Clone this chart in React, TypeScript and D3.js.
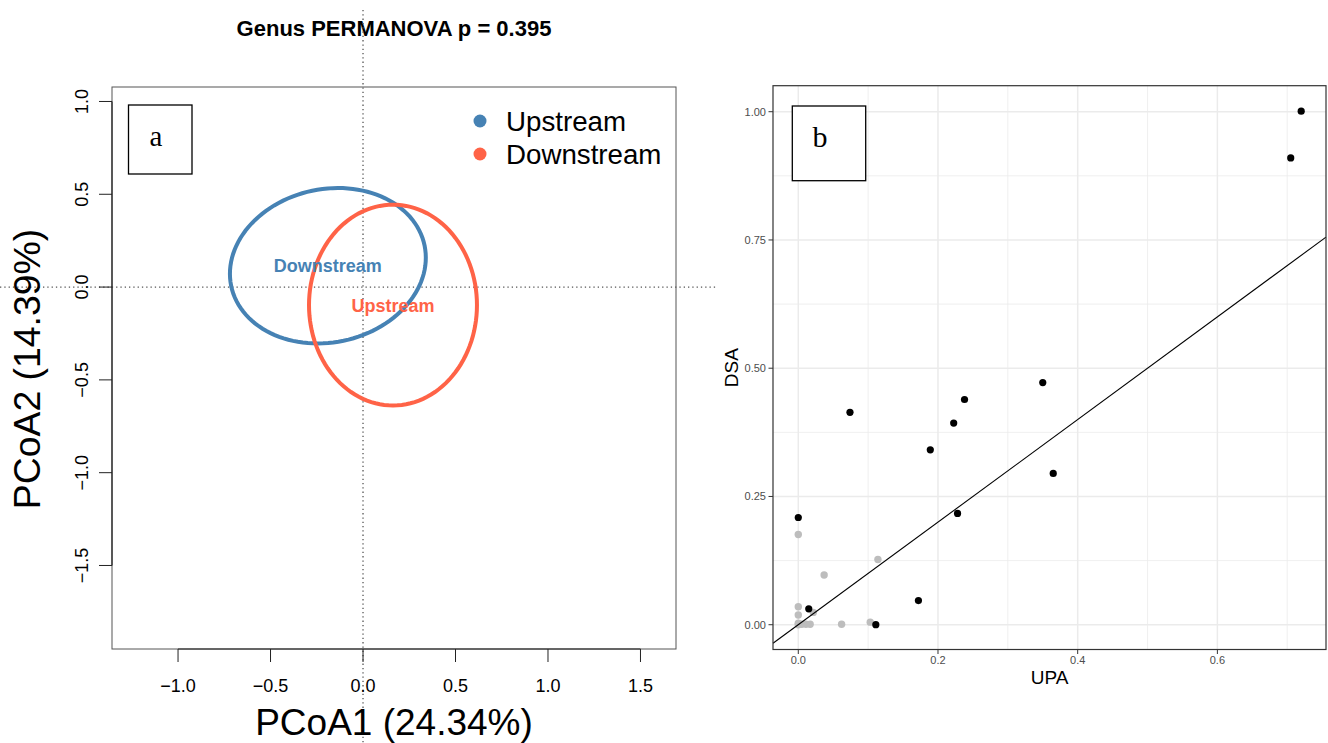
import React from 'react';
import * as d3 from 'd3';

// ---- panel a: PCoA ----
const pcoaXTicks = [-1, -0.5, 0, 0.5, 1, 1.5];
const pcoaYTicks = [1, 0.5, 0, -0.5, -1, -1.5];
const legendNames = ['Upstream', 'Downstream'];
const groupColors = ['#4682B4', '#FF6347'];
// ellipse centre, semi axes and tilt (degrees) per group, in PCoA units
const ellipseCenters = [[-0.19, 0.115], [0.162, -0.097]];
const ellipseAxes = [[0.534, 0.413], [0.454, 0.541]];
const ellipseAngles = [11.8, 0];
const ellipseLabels = ['Downstream', 'Upstream'];

// ---- panel b: UPA vs DSA ----
const upaBlack = [0.72, 0.705, 0.35, 0.238, 0.2225, 0.189, 0.365, 0.228, 0.172, 0.111, 0.074, 0.0, 0.015];
const dsaBlack = [1.001, 0.91, 0.472, 0.439, 0.393, 0.341, 0.295, 0.217, 0.047, 0.0, 0.414, 0.209, 0.031];
const upaGray = [0.0, 0.114, 0.037, 0.0, 0.0, 0.0215, 0.062, 0.103, 0.0, 0.005, 0.011, 0.017, 0.0];
const dsaGray = [0.176, 0.127, 0.097, 0.035, 0.019, 0.024, 0.001, 0.005, 0.003, 0.001, 0.001, 0.001, 0.0];
const upaTicks = [0, 0.2, 0.4, 0.6];
const upaMinor = [0.1, 0.3, 0.5, 0.7];
const dsaTicks = [0, 0.25, 0.5, 0.75, 1];
const dsaMinor = [0.125, 0.375, 0.625, 0.875];

const SANS = '"Liberation Sans", Arial, Helvetica, sans-serif';
const SERIF = '"Liberation Serif", "Times New Roman", serif';

const App = () => {
  // left panel scales
  const xa = d3.scaleLinear().domain([-1.357, 1.692]).range([112, 676]);
  const ya = d3.scaleLinear().domain([-1.95, 1.078]).range([649, 87]);

  // right panel scales
  const xb = d3.scaleLinear().domain([-0.0362, 0.7555]).range([773, 1326]);
  const yb = d3.scaleLinear().domain([-0.0483, 1.0507]).range([649.5, 85.7]);

  const f1 = d3.format('.1f');
  const f2 = d3.format('.2f');

  const ellipsePath = (i) => {
    const [cx, cy] = ellipseCenters[i];
    const [a, b] = ellipseAxes[i];
    const th = (ellipseAngles[i] * Math.PI) / 180;
    const pts = d3.range(0, 361, 3).map((deg) => {
      const t = (deg * Math.PI) / 180;
      const x = cx + a * Math.cos(th) * Math.cos(t) - b * Math.sin(th) * Math.sin(t);
      const y = cy + a * Math.sin(th) * Math.cos(t) + b * Math.cos(th) * Math.sin(t);
      return [xa(x), ya(y)];
    });
    return d3.line()(pts);
  };

  const lineX = xb.domain();

  return (
    <svg width={1328} height={743} style={{ position: 'absolute', left: 0, top: 0, background: '#fff' }}>
      {/* ===== panel a ===== */}
      <text x={394} y={36} textAnchor="middle" fontFamily={SANS} fontWeight="bold" fontSize={22}>
        Genus PERMANOVA p = 0.395
      </text>
      <rect x={112} y={87} width={564} height={562} fill="none" stroke="#555" strokeWidth={1} />
      {/* reference lines */}
      <line x1={xa(0)} x2={xa(0)} y1={10} y2={743} stroke="#555" strokeWidth={1.3} strokeDasharray="1.3,3" />
      <line x1={0} x2={716} y1={ya(0)} y2={ya(0)} stroke="#555" strokeWidth={1.3} strokeDasharray="1.3,3" />
      {/* x axis */}
      <line x1={xa(pcoaXTicks[0])} x2={xa(pcoaXTicks[pcoaXTicks.length - 1])} y1={649} y2={649} stroke="#222" strokeWidth={1.2} />
      {pcoaXTicks.map((t) => (
        <g key={'xt' + t}>
          <line x1={xa(t)} x2={xa(t)} y1={649} y2={662} stroke="#222" strokeWidth={1} />
          <text x={xa(t)} y={692} textAnchor="middle" fontFamily={SANS} fontSize={18}>{f1(t)}</text>
        </g>
      ))}
      {/* y axis */}
      <line x1={112} x2={112} y1={ya(pcoaYTicks[0])} y2={ya(pcoaYTicks[pcoaYTicks.length - 1])} stroke="#222" strokeWidth={1.2} />
      {pcoaYTicks.map((t) => (
        <g key={'yt' + t}>
          <line x1={99} x2={112} y1={ya(t)} y2={ya(t)} stroke="#222" strokeWidth={1} />
          <text transform={`translate(88,${ya(t)}) rotate(-90)`} textAnchor="middle" fontFamily={SANS} fontSize={18}>{f1(t)}</text>
        </g>
      ))}
      <text x={394} y={735} textAnchor="middle" fontFamily={SANS} fontSize={37}>PCoA1 (24.34%)</text>
      <text transform={`translate(40,${369}) rotate(-90)`} textAnchor="middle" fontFamily={SANS} fontSize={37.4}>PCoA2 (14.39%)</text>
      {/* ellipses */}
      {ellipseCenters.map((c, i) => (
        <path key={'el' + i} d={ellipsePath(i)} fill="none" stroke={groupColors[i]} strokeWidth={4} />
      ))}
      {ellipseCenters.map((c, i) => (
        <text key={'lab' + i} x={xa(c[0])} y={ya(c[1]) + 6.5} textAnchor="middle" fontFamily={SANS} fontWeight="bold" fontSize={18} fill={groupColors[i]}>
          {ellipseLabels[i]}
        </text>
      ))}
      {/* legend */}
      {legendNames.map((n, i) => (
        <g key={'lg' + n}>
          <circle cx={480} cy={121 + i * 33} r={6.5} fill={groupColors[i]} />
          <text x={506} y={131 + i * 33} fontFamily={SANS} fontSize={27.7}>{n}</text>
        </g>
      ))}
      {/* tag a */}
      <rect x={128.5} y={105} width={63.5} height={69} fill="#fff" stroke="#000" strokeWidth={1.3} />
      <text x={156} y={146} textAnchor="middle" fontFamily={SERIF} fontSize={29}>a</text>

      {/* ===== panel b ===== */}
      <rect x={773} y={85.7} width={553} height={563.8} fill="#fff" />
      {upaMinor.map((t) => (
        <line key={'vm' + t} x1={xb(t)} x2={xb(t)} y1={85.7} y2={649.5} stroke="#EBEBEB" strokeWidth={0.8} />
      ))}
      {dsaMinor.map((t) => (
        <line key={'hm' + t} x1={773} x2={1326} y1={yb(t)} y2={yb(t)} stroke="#EBEBEB" strokeWidth={0.8} />
      ))}
      {upaTicks.map((t) => (
        <line key={'vM' + t} x1={xb(t)} x2={xb(t)} y1={85.7} y2={649.5} stroke="#EBEBEB" strokeWidth={1.5} />
      ))}
      {dsaTicks.map((t) => (
        <line key={'hM' + t} x1={773} x2={1326} y1={yb(t)} y2={yb(t)} stroke="#EBEBEB" strokeWidth={1.5} />
      ))}
      {upaGray.map((u, i) => (
        <circle key={'g' + i} cx={xb(u)} cy={yb(dsaGray[i])} r={3.7} fill="#BDBDBD" />
      ))}
      <line x1={xb(lineX[0])} y1={yb(lineX[0])} x2={xb(lineX[1])} y2={yb(lineX[1])} stroke="#000" strokeWidth={1.1} />
      {upaBlack.map((u, i) => (
        <circle key={'b' + i} cx={xb(u)} cy={yb(dsaBlack[i])} r={3.6} fill="#000" />
      ))}
      <rect x={773} y={85.7} width={553} height={563.8} fill="none" stroke="#333" strokeWidth={1.2} />
      {upaTicks.map((t) => (
        <g key={'bx' + t}>
          <line x1={xb(t)} x2={xb(t)} y1={649.5} y2={654} stroke="#333" strokeWidth={1} />
          <text x={xb(t)} y={664} textAnchor="middle" fontFamily={SANS} fontSize={11} fill="#4D4D4D">{f1(t)}</text>
        </g>
      ))}
      {dsaTicks.map((t) => (
        <g key={'by' + t}>
          <line x1={768.5} x2={773} y1={yb(t)} y2={yb(t)} stroke="#333" strokeWidth={1} />
          <text x={766} y={yb(t) + 4} textAnchor="end" fontFamily={SANS} fontSize={11} fill="#4D4D4D">{f2(t)}</text>
        </g>
      ))}
      <text x={1049.5} y={684} textAnchor="middle" fontFamily={SANS} fontSize={19}>UPA</text>
      <text transform={`translate(738,${367.6}) rotate(-90)`} textAnchor="middle" fontFamily={SANS} fontSize={19}>DSA</text>
      {/* tag b */}
      <rect x={792.3} y={106} width={73.4} height={74.7} fill="#fff" stroke="#000" strokeWidth={1.3} />
      <text x={820} y={147} textAnchor="middle" fontFamily={SERIF} fontSize={30}>b</text>
    </svg>
  );
};

export default App;
